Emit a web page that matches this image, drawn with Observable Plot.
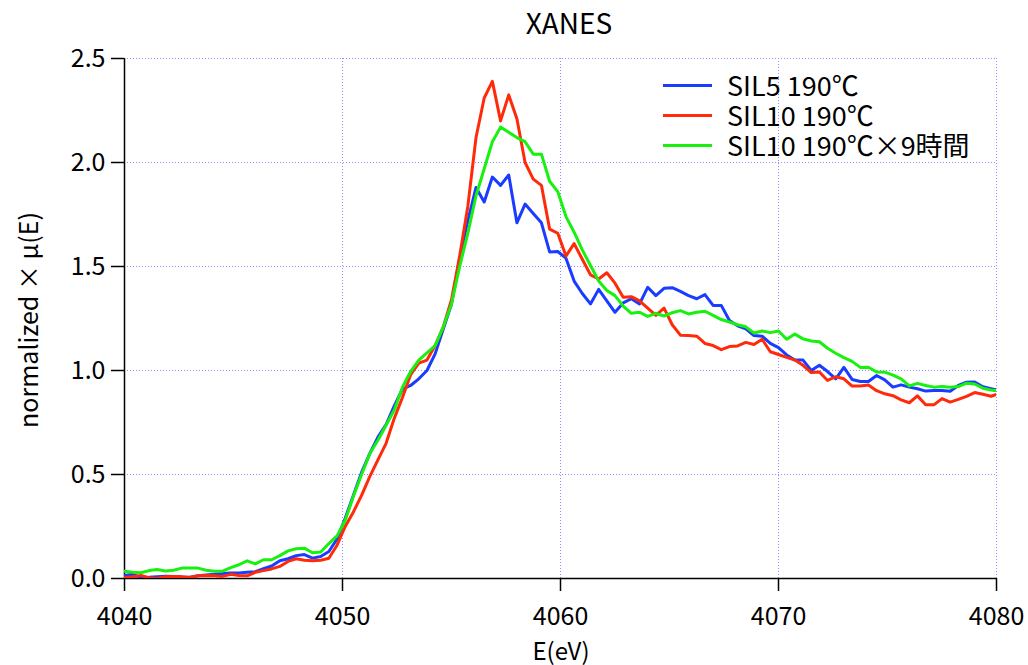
<!DOCTYPE html>
<html>
<head>
<meta charset="utf-8">
<script src="https://cdn.jsdelivr.net/npm/d3@7"></script>
<script src="https://cdn.jsdelivr.net/npm/@observablehq/plot@0.6"></script>
<style>
  html, body { margin: 0; padding: 0; background: #fff; }
  #wrap { position: relative; width: 1028px; height: 665px; font-family: "Noto Sans CJK JP", "Noto Sans", sans-serif; color: #000; }
  .lbl { position: absolute; white-space: nowrap; }
  .sw { position: absolute; height: 3px; }
</style>
</head>
<body>
<div id="wrap"></div>
<script>
const E = [4040,4040.375,4040.75,4041.125,4041.5,4041.875,4042.25,4042.625,4043,4043.375,
  4043.75,4044.125,4044.5,4044.875,4045.25,4045.625,4046,4046.375,4046.75,4047.125,
  4047.5,4047.875,4048.25,4048.625,4049,4049.375,4049.75,4050.125,4050.5,4050.875,
  4051.25,4051.625,4052,4052.375,4052.75,4053.125,4053.5,4053.875,4054.25,4054.625,
  4055,4055.375,4055.75,4056.125,4056.5,4056.875,4057.25,4057.625,4058,4058.375,
  4058.75,4059.125,4059.5,4059.875,4060.25,4060.625,4061,4061.375,4061.75,4062.125,
  4062.5,4062.875,4063.25,4063.625,4064,4064.375,4064.75,4065.125,4065.5,4065.875,
  4066.25,4066.625,4067,4067.375,4067.75,4068.125,4068.5,4068.875,4069.25,4069.625,
  4070,4070.375,4070.75,4071.125,4071.5,4071.875,4072.25,4072.625,4073,4073.375,
  4073.75,4074.125,4074.5,4074.875,4075.25,4075.625,4076,4076.375,4076.75,4077.125,
  4077.5,4077.875,4078.25,4078.625,4079,4079.375,4079.75,4080];

const sil5 = [0.015,0.02,0.004,0.006,0.009,0.011,0.01,0.007,0.006,0.013,
  0.017,0.02,0.024,0.026,0.027,0.03,0.033,0.047,0.06,0.085,
  0.095,0.11,0.115,0.098,0.106,0.13,0.19,0.29,0.40,0.51,
  0.60,0.68,0.74,0.83,0.91,0.928,0.96,1.0,1.08,1.20,
  1.32,1.54,1.72,1.88,1.81,1.93,1.89,1.94,1.71,1.80,
  1.755,1.71,1.57,1.572,1.54,1.43,1.37,1.32,1.39,1.335,
  1.28,1.325,1.345,1.32,1.40,1.36,1.395,1.398,1.38,1.36,
  1.345,1.365,1.313,1.313,1.24,1.215,1.20,1.168,1.165,1.13,
  1.11,1.075,1.05,1.05,1.0,1.025,0.995,0.96,1.015,0.957,
  0.947,0.947,0.976,0.955,0.92,0.931,0.92,0.912,0.901,0.904,
  0.904,0.9,0.928,0.944,0.945,0.922,0.913,0.907];

const sil10 = [0.005,0.008,0.015,0.004,0.0,0.008,0.01,0.008,0.005,0.013,
  0.015,0.013,0.01,0.02,0.014,0.013,0.03,0.038,0.046,0.058,
  0.082,0.095,0.088,0.085,0.088,0.097,0.16,0.25,0.32,0.40,
  0.49,0.57,0.65,0.77,0.87,0.98,1.035,1.05,1.12,1.21,
  1.34,1.55,1.79,2.12,2.31,2.39,2.2,2.325,2.21,2.0,
  1.92,1.89,1.68,1.66,1.55,1.61,1.535,1.46,1.44,1.47,
  1.42,1.352,1.355,1.335,1.30,1.265,1.30,1.22,1.17,1.168,
  1.165,1.13,1.12,1.10,1.115,1.118,1.135,1.125,1.15,1.09,
  1.077,1.063,1.05,1.025,0.99,0.993,0.952,0.97,0.96,0.925,
  0.925,0.93,0.903,0.888,0.879,0.859,0.845,0.878,0.835,0.835,
  0.865,0.848,0.861,0.876,0.894,0.886,0.876,0.885];

const sil10h9 = [0.035,0.03,0.028,0.038,0.043,0.036,0.04,0.05,0.05,0.05,
  0.04,0.035,0.035,0.052,0.066,0.085,0.07,0.09,0.09,0.11,
  0.133,0.143,0.146,0.124,0.127,0.168,0.205,0.28,0.395,0.5,
  0.6,0.665,0.737,0.81,0.92,0.995,1.05,1.085,1.12,1.21,
  1.32,1.5,1.66,1.84,1.97,2.1,2.17,2.145,2.12,2.10,
  2.04,2.04,1.91,1.86,1.74,1.665,1.58,1.505,1.43,1.385,
  1.36,1.31,1.275,1.28,1.26,1.275,1.262,1.278,1.288,1.272,
  1.28,1.285,1.265,1.245,1.233,1.22,1.21,1.18,1.19,1.182,
  1.19,1.15,1.175,1.152,1.142,1.138,1.107,1.083,1.062,1.044,
  1.015,1.016,0.993,0.992,0.978,0.96,0.926,0.938,0.928,0.92,
  0.923,0.92,0.923,0.939,0.935,0.915,0.906,0.903];

const seriesNames = ["SIL5 190℃", "SIL10 190℃", "SIL10 190℃×9時間"];
const seriesColors = ["#1a3cff", "#ff2a0a", "#18f010"];
const xTicks = [4040, 4050, 4060, 4070, 4080];
const yTicks = [0.0, 0.5, 1.0, 1.5, 2.0, 2.5];
const titleText = "XANES";
const xLabel = "E(eV)";
const yLabel = "normalized × μ(E)";

const seriesValues = [sil5, sil10, sil10h9];
const tables = seriesValues.map(vals => E.map((e, i) => ({E: e, v: vals[i]})));

const gridStyle = {stroke: "#8c8cff", strokeOpacity: 1, strokeWidth: 1, strokeDasharray: "1,2"};

const chart = Plot.plot({
  width: 1028,
  height: 665,
  marginLeft: 124,
  marginRight: 32,
  marginTop: 58,
  marginBottom: 87,
  style: {fontSize: "25px", fontFamily: "'Noto Sans CJK JP', 'Noto Sans', sans-serif", background: "#fff", color: "#000"},
  x: {domain: [4040, 4080]},
  y: {domain: [0, 2.5]},
  marks: [
    Plot.gridX(xTicks, gridStyle),
    Plot.gridY(yTicks, gridStyle),
    Plot.axisX({ticks: xTicks, tickSize: 13, tickPadding: 16, tickFormat: d => String(d), label: null, stroke: "#000", strokeWidth: 1.5, fill: "#000"}),
    Plot.axisY({ticks: yTicks, tickSize: 13, tickPadding: 6, tickFormat: d3.format(".1f"), label: null, stroke: "#000", strokeWidth: 1.5, fill: "#000"}),
    Plot.ruleX([4040], {stroke: "#000", strokeWidth: 1.5}),
    Plot.ruleY([0], {stroke: "#000", strokeWidth: 1.5}),
    ...tables.map((t, i) => Plot.line(t, {x: "E", y: "v", stroke: seriesColors[i], strokeWidth: 3, clip: true}))
  ]
});

const wrap = document.getElementById("wrap");
wrap.appendChild(chart);

function addLabel(text, css) {
  const d = document.createElement("div");
  d.className = "lbl";
  d.textContent = text;
  Object.assign(d.style, css);
  wrap.appendChild(d);
  return d;
}

addLabel(titleText, {left: "569px", top: "22px", fontSize: "28px", lineHeight: "30px", transform: "translate(-50%, -50%)"});
addLabel(xLabel, {left: "561px", top: "650px", fontSize: "24px", lineHeight: "26px", transform: "translate(-50%, -50%)"});
addLabel(yLabel, {left: "27px", top: "320px", fontSize: "25px", lineHeight: "26px", transform: "translate(-50%, -50%) rotate(-90deg)"});

const legendRowsY = [85, 115, 145];
seriesNames.forEach((name, i) => {
  const sw = document.createElement("div");
  sw.className = "sw";
  Object.assign(sw.style, {left: "663px", width: "49px", top: (legendRowsY[i] - 1.5) + "px", background: seriesColors[i]});
  wrap.appendChild(sw);
  addLabel(name, {left: "727px", top: legendRowsY[i] + "px", fontSize: "27px", lineHeight: "28px", transform: "translateY(-50%)"});
});
</script>
</body>
</html>
